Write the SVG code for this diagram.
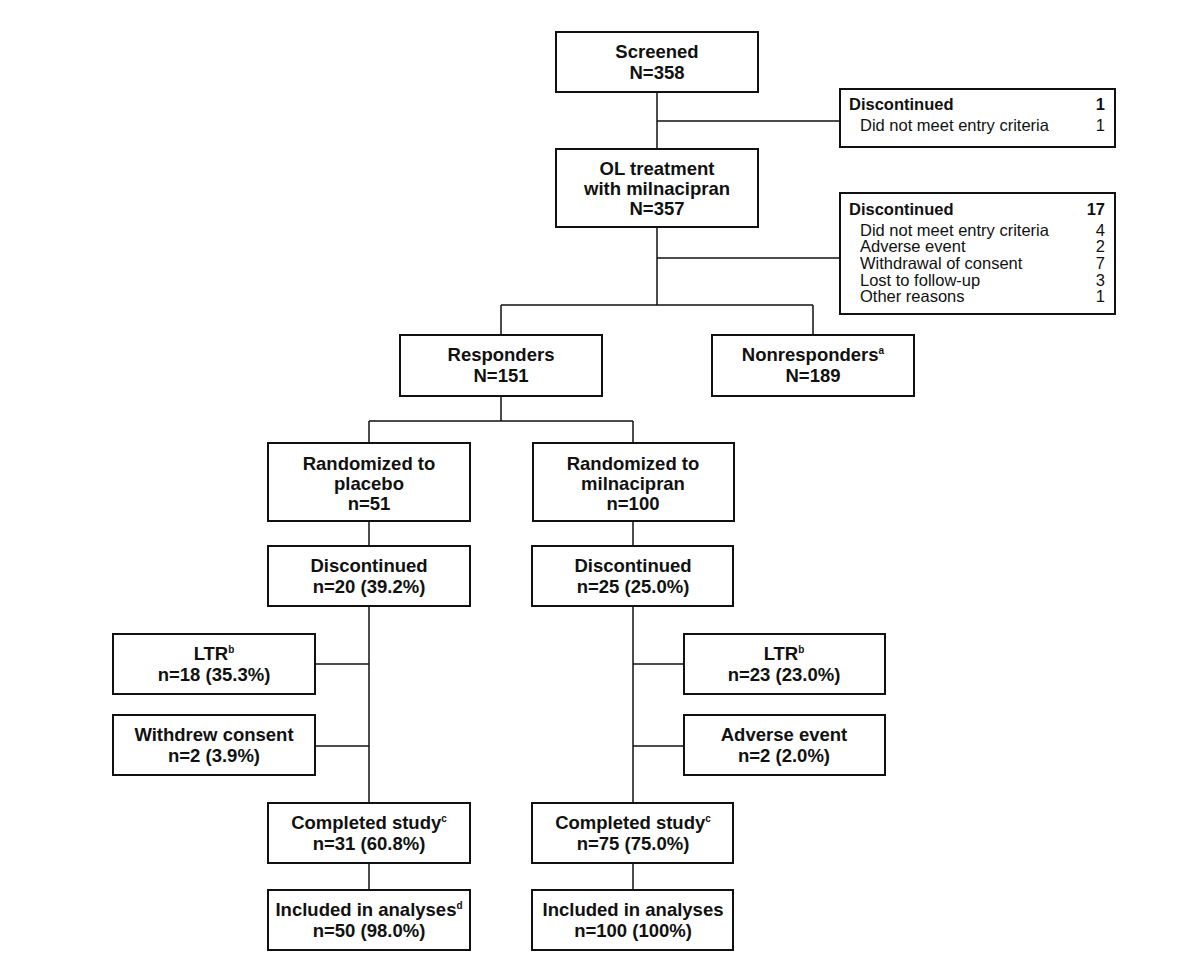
<svg xmlns="http://www.w3.org/2000/svg" width="1200" height="974" viewBox="0 0 1200 974">
<style>
rect.b{fill:#fff;stroke:#111;stroke-width:2}
.c line{stroke:#111;stroke-width:1.5}
text{font-family:"Liberation Sans",Arial,sans-serif;fill:#111}
.t{font-weight:bold;font-size:18.5px;text-anchor:middle}
.s{font-size:16.5px}
.sb{font-size:16.5px;font-weight:bold}
.r{text-anchor:end}
.sup{font-size:10px}
</style>
<rect width="1200" height="974" fill="#fff"/>
<g class="c">
<line x1="657" y1="92" x2="657" y2="149"/>
<line x1="657" y1="121" x2="840" y2="121"/>
<line x1="657" y1="227" x2="657" y2="305"/>
<line x1="657" y1="258" x2="840" y2="258"/>
<line x1="501" y1="305" x2="813" y2="305"/>
<line x1="501" y1="305" x2="501" y2="335"/>
<line x1="813" y1="305" x2="813" y2="335"/>
<line x1="501" y1="396" x2="501" y2="421"/>
<line x1="369" y1="421" x2="633" y2="421"/>
<line x1="369" y1="421" x2="369" y2="443"/>
<line x1="633" y1="421" x2="633" y2="443"/>
<line x1="369" y1="521" x2="369" y2="546"/>
<line x1="633" y1="521" x2="633" y2="546"/>
<line x1="369" y1="606" x2="369" y2="803"/>
<line x1="633" y1="606" x2="633" y2="803"/>
<line x1="315" y1="664" x2="369" y2="664"/>
<line x1="315" y1="746" x2="369" y2="746"/>
<line x1="633" y1="664" x2="684" y2="664"/>
<line x1="633" y1="746" x2="684" y2="746"/>
<line x1="369" y1="863" x2="369" y2="890"/>
<line x1="633" y1="863" x2="633" y2="890"/>
</g>
<g id="screened"><rect class="b" x="556" y="32" width="202" height="60"/>
<text class="t" x="657" y="58">Screened</text><text class="t" x="657" y="79">N=358</text></g>
<g id="disc1"><rect class="b" x="840" y="89" width="275" height="58"/>
<text class="sb" x="849" y="110">Discontinued</text><text class="sb r" x="1105" y="110">1</text>
<text class="s" x="860" y="131">Did not meet entry criteria</text><text class="s r" x="1105" y="131">1</text></g>
<g id="ol"><rect class="b" x="556" y="149" width="202" height="78"/>
<text class="t" x="657" y="175">OL treatment</text><text class="t" x="657" y="195">with milnacipran</text><text class="t" x="657" y="215">N=357</text></g>
<g id="disc2"><rect class="b" x="840" y="193" width="275" height="121"/>
<text class="sb" x="849" y="215">Discontinued</text><text class="sb r" x="1105" y="215">17</text>
<text class="s" x="860" y="236">Did not meet entry criteria</text><text class="s r" x="1105" y="236">4</text>
<text class="s" x="860" y="252">Adverse event</text><text class="s r" x="1105" y="252">2</text>
<text class="s" x="860" y="269">Withdrawal of consent</text><text class="s r" x="1105" y="269">7</text>
<text class="s" x="860" y="286">Lost to follow-up</text><text class="s r" x="1105" y="286">3</text>
<text class="s" x="860" y="302">Other reasons</text><text class="s r" x="1105" y="302">1</text></g>
<g id="responders"><rect class="b" x="400" y="335" width="202" height="61"/>
<text class="t" x="501" y="361">Responders</text><text class="t" x="501" y="382">N=151</text></g>
<g id="nonresponders"><rect class="b" x="712" y="335" width="202" height="61"/>
<text class="t" x="813" y="361">Nonresponders<tspan class="sup" dy="-7">a</tspan></text><text class="t" x="813" y="382">N=189</text></g>
<g id="rand-placebo"><rect class="b" x="268" y="443" width="202" height="78"/>
<text class="t" x="369" y="470">Randomized to</text><text class="t" x="369" y="490">placebo</text><text class="t" x="369" y="510">n=51</text></g>
<g id="rand-mil"><rect class="b" x="533" y="443" width="201" height="78"/>
<text class="t" x="633" y="470">Randomized to</text><text class="t" x="633" y="490">milnacipran</text><text class="t" x="633" y="510">n=100</text></g>
<g id="disc-placebo"><rect class="b" x="268" y="546" width="202" height="60"/>
<text class="t" x="369" y="572">Discontinued</text><text class="t" x="369" y="593">n=20 (39.2%)</text></g>
<g id="disc-mil"><rect class="b" x="532" y="546" width="201" height="60"/>
<text class="t" x="633" y="572">Discontinued</text><text class="t" x="633" y="593">n=25 (25.0%)</text></g>
<g id="ltr-placebo"><rect class="b" x="113" y="634" width="202" height="60"/>
<text class="t" x="214" y="660">LTR<tspan class="sup" dy="-7">b</tspan></text><text class="t" x="214" y="681">n=18 (35.3%)</text></g>
<g id="withdrew"><rect class="b" x="113" y="715" width="202" height="60"/>
<text class="t" x="214" y="741">Withdrew consent</text><text class="t" x="214" y="762">n=2 (3.9%)</text></g>
<g id="ltr-mil"><rect class="b" x="684" y="634" width="201" height="60"/>
<text class="t" x="784" y="660">LTR<tspan class="sup" dy="-7">b</tspan></text><text class="t" x="784" y="681">n=23 (23.0%)</text></g>
<g id="adverse"><rect class="b" x="684" y="715" width="201" height="60"/>
<text class="t" x="784" y="741">Adverse event</text><text class="t" x="784" y="762">n=2 (2.0%)</text></g>
<g id="comp-placebo"><rect class="b" x="268" y="803" width="202" height="60"/>
<text class="t" x="369" y="829">Completed study<tspan class="sup" dy="-7">c</tspan></text><text class="t" x="369" y="850">n=31 (60.8%)</text></g>
<g id="comp-mil"><rect class="b" x="532" y="803" width="201" height="60"/>
<text class="t" x="633" y="829">Completed study<tspan class="sup" dy="-7">c</tspan></text><text class="t" x="633" y="850">n=75 (75.0%)</text></g>
<g id="incl-placebo"><rect class="b" x="268" y="890" width="202" height="60"/>
<text class="t" x="369" y="916">Included in analyses<tspan class="sup" dy="-7">d</tspan></text><text class="t" x="369" y="937">n=50 (98.0%)</text></g>
<g id="incl-mil"><rect class="b" x="532" y="890" width="201" height="60"/>
<text class="t" x="633" y="916">Included in analyses</text><text class="t" x="633" y="937">n=100 (100%)</text></g>
</svg>
